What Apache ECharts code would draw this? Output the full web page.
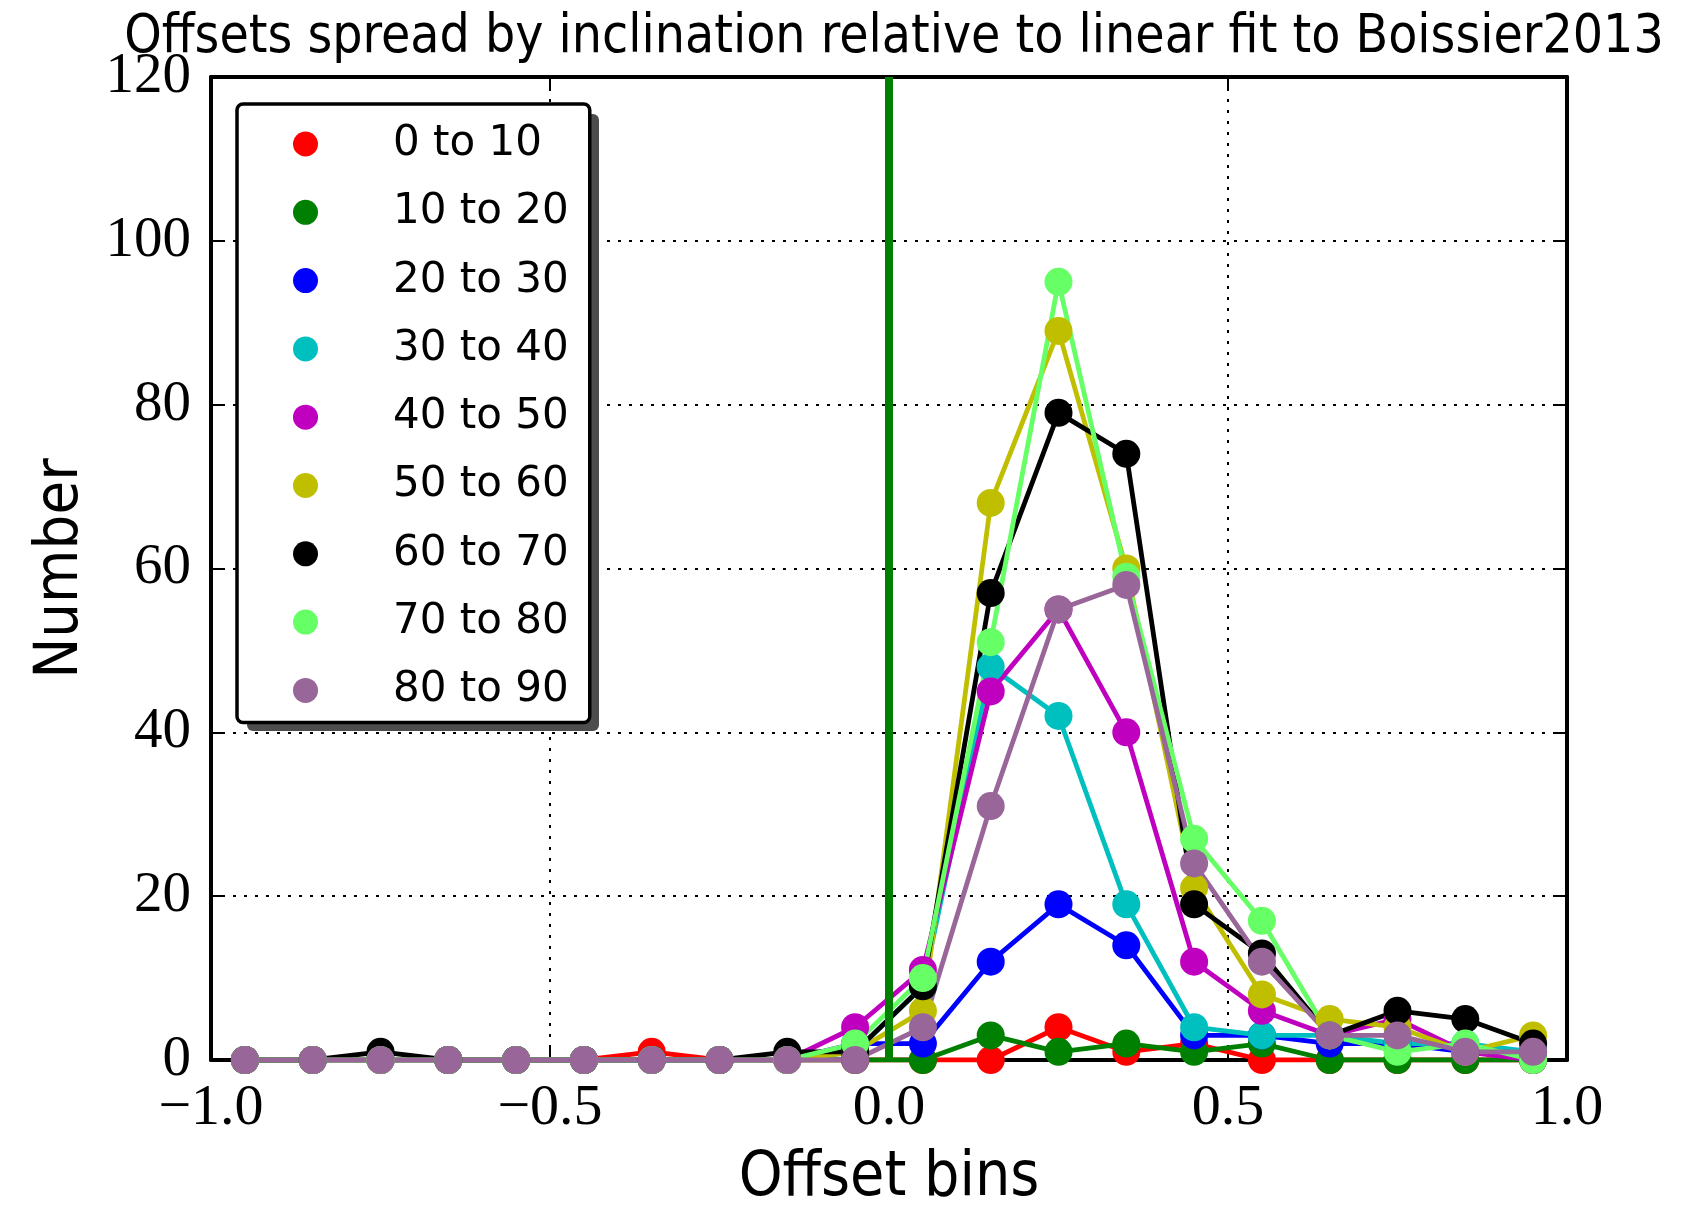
<!DOCTYPE html>
<html>
<head>
<meta charset="utf-8">
<script src="https://cdn.jsdelivr.net/npm/echarts@6/dist/echarts.min.js"></script>
<style>
html,body{margin:0;padding:0;background:#fff;}
#chart{width:1688px;height:1208px;}
</style>
</head>
<body>
<div id="chart"></div>
<script>
// Bin centres along the x axis
const xBins = [-0.95,-0.85,-0.75,-0.65,-0.55,-0.45,-0.35,-0.25,-0.15,-0.05,0.05,0.15,0.25,0.35,0.45,0.55,0.65,0.75,0.85,0.95];
// Series names (inclination ranges)
const seriesNames = ['0 to 10','10 to 20','20 to 30','30 to 40','40 to 50','50 to 60','60 to 70','70 to 80','80 to 90'];
const seriesColors = ['#ff0000','#008000','#0000ff','#00bfbf','#bf00bf','#bfbf00','#000000','#66ff66','#996699'];
// Counts per bin
const inc0to10  = [0,0,0,0,0,0,1,0,0,0, 0, 0, 4, 1, 2, 0,0,0,0,0];
const inc10to20 = [0,0,0,0,0,0,0,0,0,0, 0, 3, 1, 2, 1, 2,0,0,0,0];
const inc20to30 = [0,0,0,0,0,0,0,0,0,2, 2,12,19,14, 3, 3,2,2,1,1];
const inc30to40 = [0,0,0,0,0,0,0,0,0,1, 9,48,42,19, 4, 3,3,2,2,1];
const inc40to50 = [0,0,0,0,0,0,0,0,0,4,11,45,55,40,12, 6,3,5,1,0];
const inc50to60 = [0,0,0,0,0,0,0,0,0,1, 6,68,89,60,21, 8,5,4,1,3];
const inc60to70 = [0,0,1,0,0,0,0,0,1,1, 9,57,79,74,19,13,3,6,5,2];
const inc70to80 = [0,0,0,0,0,0,0,0,0,2,10,51,95,59,27,17,3,1,2,0];
const inc80to90 = [0,0,0,0,0,0,0,0,0,0, 4,31,55,58,24,12,3,3,1,1];
const allCounts = [inc0to10,inc10to20,inc20to30,inc30to40,inc40to50,inc50to60,inc60to70,inc70to80,inc80to90];
// Reference line (linear fit offset = 0)
const fitOffset = [0];
// Tick labels
const xTickValues = [-1.0,-0.5,0.0,0.5,1.0];
const xTickLabels = ['\u22121.0','\u22120.5','0.0','0.5','1.0'];
const yTickLabels = ['0','20','40','60','80','100','120'];

const chart = echarts.init(document.getElementById('chart'), null, {renderer:'canvas'});

const serifFont = '"Liberation Serif", "DejaVu Serif", serif';
const sansFont = '"DejaVu Sans Condensed", "DejaVu Sans", sans-serif';
const legendFont = '"DejaVu Sans", sans-serif';
const gridDash = {color:'#000', width:2, type:[3,8]};

const series = allCounts.map((vals, i) => ({
  name: seriesNames[i],
  type: 'line',
  data: xBins.map((x, j) => [x, vals[j]]),
  symbol: 'circle',
  symbolSize: 28,
  showSymbol: true,
  itemStyle: {color: seriesColors[i]},
  lineStyle: {color: seriesColors[i], width: 4.8},
  emphasis: {disabled: true},
  animation: false,
  z: 3
}));

series.unshift({
  name: 'fit',
  type: 'line',
  data: [],
  z: -1,
  silent: true,
  animation: false,
  markLine: {
    symbol: ['none','none'],
    silent: true,
    animation: false,
    label: {show:false},
    lineStyle: {color:'#007f00', width:8, type:'solid'},
    data: fitOffset.map(v => ({xAxis: v}))
  }
});

const option = {
  backgroundColor: '#fff',
  animation: false,
  title: {
    text: 'Offsets spread by inclination relative to linear fit to Boissier2013',
    left: 889, top: 5, textAlign: 'center',
    textStyle: {fontFamily: sansFont, fontSize: 53, fontWeight: 'normal', color: '#000', lineHeight: 56}
  },
  grid: {left: 211, right: 121, top: 77, bottom: 148, containLabel: false, outerBoundsMode: 'none'},
  graphic: [{
    type: 'rect', z: 5, zlevel: 0, silent: true,
    shape: {x: 247, y: 114, width: 352, height: 617, r: 6},
    style: {fill: '#4d4d4d'}
  }],
  legend: {
    left: 237, top: 104, z: 6,
    orient: 'vertical',
    data: seriesNames,
    icon: 'circle',
    itemWidth: 25, itemHeight: 25,
    itemGap: 26.3,
    padding: [19, 21, 11, 56],
    backgroundColor: '#fff',
    borderColor: '#000', borderWidth: 3.5, borderRadius: 6,
    textStyle: {fontFamily: legendFont, fontSize: 42, color: '#000', lineHeight: 30, padding: [0,0,0,70]},
    selectedMode: false
  },
  xAxis: [{
    type: 'value', min: -1, max: 1, interval: 0.5,
    name: 'Offset bins', nameLocation: 'middle', nameGap: 88,
    nameTextStyle: {fontFamily: sansFont, fontSize: 62, color: '#000', lineHeight: 62},
    axisLine: {show: true, onZero: false, lineStyle: {color:'#000', width: 4}},
    axisTick: {show: true, inside: true, length: 12, lineStyle: {color:'#000', width: 2}},
    axisLabel: {fontFamily: serifFont, fontSize: 58, color: '#000', margin: 20,
      formatter: v => { const k = xTickValues.findIndex(t => Math.abs(t - v) < 1e-9); return k >= 0 ? xTickLabels[k] : ''; }},
    splitLine: {show: true, lineStyle: gridDash}
  },{
    type: 'value', min: -1, max: 1, interval: 0.5, position: 'top',
    axisLine: {show: true, onZero: false, lineStyle: {color:'#000', width: 4}},
    axisTick: {show: true, inside: true, length: 12, lineStyle: {color:'#000', width: 2}},
    axisLabel: {show: false}, splitLine: {show: false}
  }],
  yAxis: [{
    type: 'value', min: 0, max: 120, interval: 20,
    name: 'Number', nameLocation: 'middle', nameGap: 119, nameRotate: 90,
    nameTextStyle: {fontFamily: sansFont, fontSize: 61, color: '#000'},
    axisLine: {show: true, onZero: false, lineStyle: {color:'#000', width: 4}},
    axisTick: {show: true, inside: true, length: 12, lineStyle: {color:'#000', width: 2}},
    axisLabel: {fontFamily: serifFont, fontSize: 57, color: '#000', margin: 20,
      formatter: v => yTickLabels[Math.round(v / 20)]},
    splitLine: {show: true, lineStyle: gridDash}
  },{
    type: 'value', min: 0, max: 120, interval: 20, position: 'right',
    axisLine: {show: true, onZero: false, lineStyle: {color:'#000', width: 4}},
    axisTick: {show: true, inside: true, length: 12, lineStyle: {color:'#000', width: 2}},
    axisLabel: {show: false}, splitLine: {show: false}
  }],
  series: series
};
chart.setOption(option);
</script>
</body>
</html>
